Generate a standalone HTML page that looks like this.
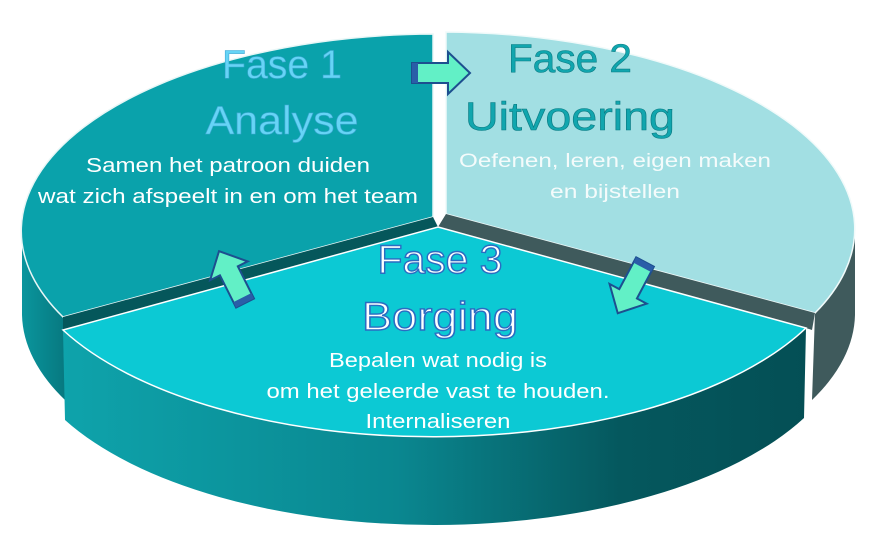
<!DOCTYPE html>
<html><head><meta charset="utf-8"><style>
html,body{margin:0;padding:0;background:#fff;width:880px;height:547px;overflow:hidden}
text{font-family:"Liberation Sans",sans-serif}
</style></head><body>
<svg width="880" height="547" viewBox="0 0 880 547" xmlns="http://www.w3.org/2000/svg">
<defs>
<linearGradient id="s3" x1="0" x2="1" y1="0" y2="0">
<stop offset="0" stop-color="#0ea3ab"/><stop offset="0.45" stop-color="#0a8790"/><stop offset="0.75" stop-color="#05585e"/><stop offset="1" stop-color="#044f55"/>
</linearGradient>
<linearGradient id="s1" x1="0" x2="1"><stop offset="0" stop-color="#0a959d"/><stop offset="1" stop-color="#077980"/></linearGradient>
<g id="arr">
<path d="M0,-10 L36,-10 L36,-21 L58,0 L36,21 L36,10 L0,10 Z" fill="#62f0c6" stroke="#1d4f8f" stroke-width="2"/>
<rect x="0" y="-10" width="6" height="20" fill="#2a5ea8"/>
</g>
</defs>
<path d="M22,230 L22,315 A416,197 0 0 0 65,400 L63,317 A416,197 0 0 1 22,230 Z" fill="url(#s1)"/>
<path d="M855,230 L855,315 A416,197 0 0 1 812,400 L815,313 A416,197 0 0 0 855,230 Z" fill="#3f5a5c"/>
<path d="M433,34 A416,197 0 0 0 63,317 L433,217 Z" fill="#0aa2ab" stroke="#e8f6f6" stroke-width="1.5"/>
<path d="M446,32 A416,197 0 0 1 815,313 L446,214 Z" fill="#a2dfe3" stroke="#f0fafa" stroke-width="1.5"/>
<polygon points="433,217 63,317 63,330 438,227" fill="#05575b"/>
<polygon points="446,214 815,313 812,330 806,328 438,227" fill="#3f5a5c"/>
<path d="M63,330 L65,420 A416,196 0 0 0 804,418 L806,328 A416,196 0 0 1 63,330 Z" fill="url(#s3)"/>
<path d="M438,227 L806,328 A416,196 0 0 1 63,330 Z" fill="#0cc9d4" stroke="#ffffff" stroke-width="1.5"/>
<use href="#arr" transform="translate(412,73)"/>
<use href="#arr" transform="translate(245,303) rotate(-116.6)"/>
<use href="#arr" transform="translate(645,262) rotate(118)"/>
<g text-anchor="middle">
<text x="282" y="78" font-size="40" fill="#66d4f6" stroke="#3fa8d4" stroke-width="0.6" textLength="120" lengthAdjust="spacingAndGlyphs">Fase 1</text>
<text x="282" y="134" font-size="40" fill="#66d4f6" stroke="#3fa8d4" stroke-width="0.6" textLength="153" lengthAdjust="spacingAndGlyphs">Analyse</text>
<text x="228" y="172" font-size="20" fill="#ffffff" textLength="284" lengthAdjust="spacingAndGlyphs">Samen het patroon duiden</text>
<text x="228" y="203" font-size="20" fill="#ffffff" textLength="380" lengthAdjust="spacingAndGlyphs">wat zich afspeelt in en om het team</text>
<text x="570" y="72" font-size="40" fill="#11a6ae" stroke="#0a7c84" stroke-width="0.6" textLength="124" lengthAdjust="spacingAndGlyphs">Fase 2</text>
<text x="570" y="130" font-size="40" fill="#11a6ae" stroke="#0a7c84" stroke-width="0.6" textLength="210" lengthAdjust="spacingAndGlyphs">Uitvoering</text>
<text x="615" y="167" font-size="19" fill="#f4fbfb" textLength="312" lengthAdjust="spacingAndGlyphs">Oefenen, leren,  eigen maken</text>
<text x="615" y="198" font-size="19" fill="#f4fbfb" textLength="130" lengthAdjust="spacingAndGlyphs">en bijstellen</text>
<text x="440" y="273" font-size="40" fill="#ffffff" stroke="#2a6cc2" stroke-width="1.4" textLength="125" lengthAdjust="spacingAndGlyphs">Fase 3</text>
<text x="440" y="330" font-size="40" fill="#ffffff" stroke="#2a6cc2" stroke-width="1.4" textLength="156" lengthAdjust="spacingAndGlyphs">Borging</text>
<text x="438" y="367" font-size="20" fill="#ffffff" textLength="218" lengthAdjust="spacingAndGlyphs">Bepalen wat nodig is</text>
<text x="438" y="398" font-size="20" fill="#ffffff" textLength="343" lengthAdjust="spacingAndGlyphs">om het geleerde vast te houden.</text>
<text x="438" y="428" font-size="20" fill="#ffffff" textLength="145" lengthAdjust="spacingAndGlyphs">Internaliseren</text>
</g>
</svg>
</body></html>
